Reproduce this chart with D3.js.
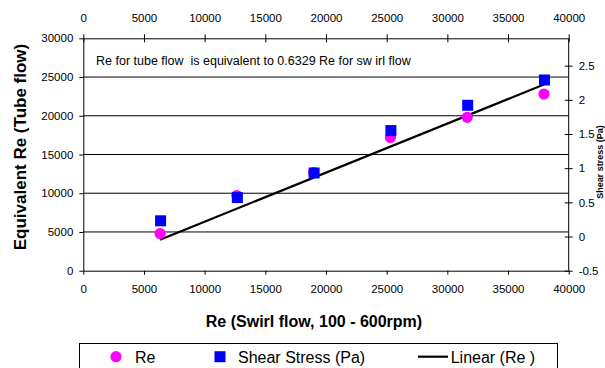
<!DOCTYPE html>
<html><head><meta charset="utf-8">
<script src="https://cdn.jsdelivr.net/npm/d3@7"></script>
<style>
html,body{margin:0;padding:0;background:#fff;}
svg{display:block;font-family:"Liberation Sans",Arial,sans-serif;}
</style></head>
<body>
<svg id="c" width="605" height="368"></svg>
<script>
// ---- data ----
const swirlRe = [6327, 12654, 18981, 25308, 31635, 37962];
const tubeRe = [4800, 9700, 12650, 17200, 19800, 22800];
const shearStress = [0.23, 0.57, 0.93, 1.55, 1.92, 2.29];
const trendSlope = 0.6329;
const xTicks = [0, 5000, 10000, 15000, 20000, 25000, 30000, 35000, 40000];
const yLeftTicks = [0, 5000, 10000, 15000, 20000, 25000, 30000];
const yRightTicks = [-0.5, 0, 0.5, 1, 1.5, 2, 2.5];
const legendLabels = ["Re", "Shear Stress (Pa)", "Linear (Re )"];
const annotation = "Re for tube flow  is equivalent to 0.6329 Re for sw irl flow";

// ---- layout ----
const L = 83.3, R = 568.7, T = 38.3, B = 270.7;
const svg = d3.select("#c");
const x = d3.scaleLinear().domain([0, 40000]).range([L, R]);
const yL = d3.scaleLinear().domain([0, 30000]).range([B, T]);
const yR = d3.scaleLinear().domain([-0.5, 2.9]).range([B, T]);
const fmt = v => String(v);

// gridlines
svg.append("g").selectAll("line").data(yLeftTicks.filter(v => v > 0 && v < 30000)).join("line")
  .attr("x1", L).attr("x2", R).attr("y1", d => yL(d)).attr("y2", d => yL(d))
  .attr("stroke", "#000").attr("stroke-width", 1);

function styleAxis(g) {
  g.select(".domain").attr("stroke", "#000").attr("stroke-width", 1);
  g.selectAll(".tick line").attr("stroke", "#000");
  g.selectAll(".tick text").attr("fill", "#000").style("font-size", "11.5px")
    .style("font-family", '"Liberation Sans",Arial,sans-serif');
}
// bottom
svg.append("g").attr("transform", `translate(0,${B})`)
  .call(d3.axisBottom(x).tickValues(xTicks).tickFormat(fmt).tickSize(4).tickSizeOuter(0).tickPadding(10))
  .call(styleAxis);
// top
const gt = svg.append("g").attr("transform", `translate(0,${T})`)
  .call(d3.axisTop(x).tickValues(xTicks).tickFormat(fmt).tickSize(4).tickSizeOuter(0).tickPadding(12))
  .call(styleAxis);
gt.selectAll(".tick line").attr("y1", 4);
// left
svg.append("g").attr("transform", `translate(${L},0)`)
  .call(d3.axisLeft(yL).tickValues(yLeftTicks).tickFormat(fmt).tickSize(4).tickSizeOuter(0).tickPadding(6))
  .call(styleAxis);
// right
const gr = svg.append("g").attr("transform", `translate(${R},0)`)
  .call(d3.axisRight(yR).tickValues(yRightTicks).tickFormat(fmt).tickSize(4).tickSizeOuter(0).tickPadding(6))
  .call(styleAxis);
gr.selectAll(".tick line").attr("x1", -4);
gr.select(".domain").attr("d", `M0,${B}V${T}`);

// trend line
const line = d3.line().x(d => x(d)).y(d => yL(trendSlope * d));
svg.append("path").datum([swirlRe[0], swirlRe[swirlRe.length - 1]])
  .attr("d", line).attr("fill", "none").attr("stroke", "#000").attr("stroke-width", 2.2);

// Re points
svg.append("g").selectAll("circle").data(swirlRe).join("circle")
  .attr("cx", d => x(d)).attr("cy", (d, i) => yL(tubeRe[i])).attr("r", 5.6).attr("fill", "#ff00ff");
// Shear stress
const s = 11;
svg.append("g").selectAll("rect").data(swirlRe).join("rect")
  .attr("x", d => x(d) - s / 2 + 0.5).attr("y", (d, i) => yR(shearStress[i]) - s / 2).attr("width", s).attr("height", s)
  .attr("fill", "#0000ff");

// annotation
svg.append("text").attr("x", 96).attr("y", 65).style("font-size", "12.5px")
  .style("white-space", "pre").attr("xml:space", "preserve").text(annotation);

// axis titles
svg.append("text").attr("x", 314).attr("y", 327).attr("text-anchor", "middle")
  .style("font-size", "16px").style("font-weight", "bold").text("Re (Swirl flow, 100 - 600rpm)");
svg.append("text").attr("transform", "translate(25.5,147) rotate(-90)").attr("text-anchor", "middle")
  .style("font-size", "17px").style("font-weight", "bold").text("Equivalent Re (Tube flow)");
svg.append("text").attr("transform", "translate(602.5,162) rotate(-90)").attr("text-anchor", "middle")
  .style("font-size", "9px").style("font-weight", "bold").text("Shear stress (Pa)");

// legend
const lg = svg.append("g");
lg.append("rect").attr("x", 79.5).attr("y", 343.5).attr("width", 478).attr("height", 40)
  .attr("fill", "#fff").attr("stroke", "#000").attr("stroke-width", 1);
lg.append("circle").attr("cx", 116).attr("cy", 356.7).attr("r", 5.6).attr("fill", "#ff00ff");
lg.append("rect").attr("x", 214.5).attr("y", 351.2).attr("width", s).attr("height", s).attr("fill", "#0000ff");
lg.append("line").attr("x1", 418).attr("x2", 448).attr("y1", 356.7).attr("y2", 356.7).attr("stroke", "#000").attr("stroke-width", 2.2);
const lx = [135, 238, 450.7];
lg.selectAll("text.lt").data(legendLabels).join("text").attr("class", "lt")
  .attr("x", (d, i) => lx[i]).attr("y", 363).style("font-size", "16px").text(d => d);
</script>
</body></html>
